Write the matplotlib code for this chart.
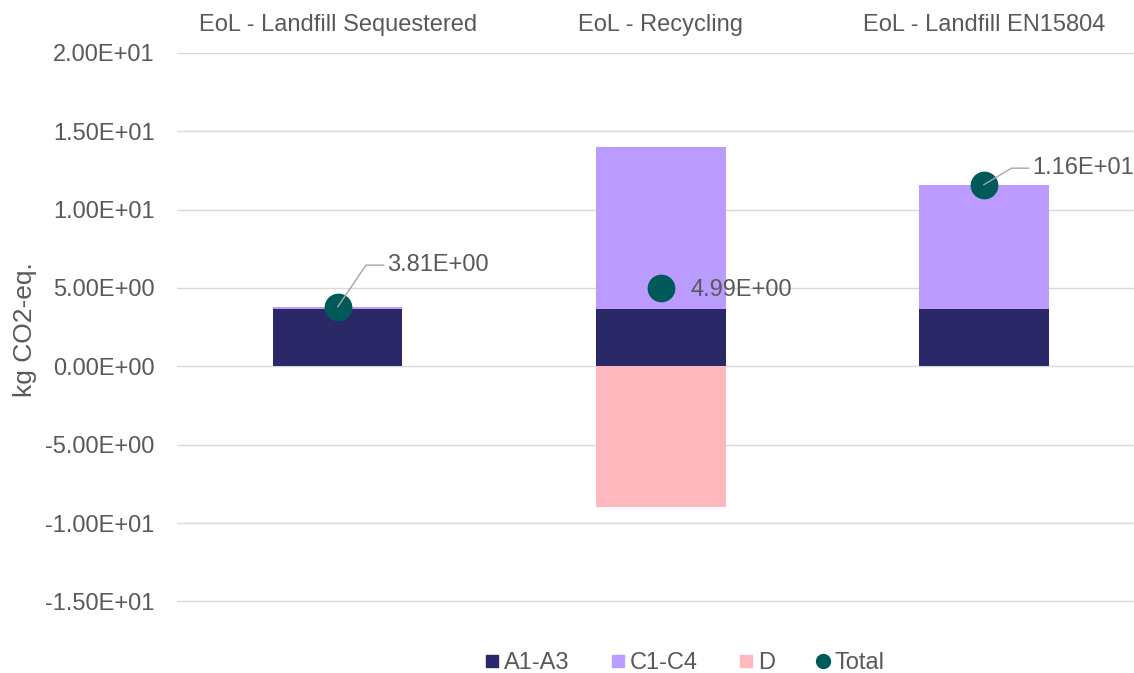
import numpy as np
import matplotlib.pyplot as plt
from matplotlib.lines import Line2D

plt.rcParams['font.family'] = ['Liberation Sans', 'DejaVu Sans']

categories = ["EoL - Landfill Sequestered", "EoL - Recycling", "EoL - Landfill EN15804"]
a1_a3 = [3.64, 3.64, 3.64]
c1_c4 = [0.17, 10.35, 7.93]
d = [0.0, -9.0, 0.0]
total = [3.81, 4.99, 11.6]
total_labels = ["3.81E+00", "4.99E+00", "1.16E+01"]

col_a = "#2A2866"
col_c = "#BB9BFF"
col_d = "#FFB8BE"
col_t = "#005A5A"
txt = "#595959"
fs = 17

fig = plt.figure(figsize=(11.34, 6.73), dpi=100)
# axes spans y = -15.3 .. 20  (20 at px 53, -10 at px 523)
ppu = (523 - 53) / 30.0
bottom_px = 53 + 35.3 * ppu
left_px = 177
ax = fig.add_axes([left_px / 1134, (673 - bottom_px) / 673, (1134 - left_px) / 1134, (bottom_px - 53) / 673])

x = np.arange(len(categories))
w = 0.40
ax.bar(x, a1_a3, w, color=col_a, zorder=2)
ax.bar(x, c1_c4, w, bottom=a1_a3, color=col_c, zorder=2)
ax.bar(x, d, w, color=col_d, zorder=2)
ax.scatter(x, total, s=360, color=col_t, zorder=4)

# data labels for totals (label offset from the point, leader bend x)
offsets = [(0.152, 2.65, 0.087), (0.09, -0.12, None), (0.148, 1.05, 0.085)]
for i, (lab, (dx, dy, bx)) in enumerate(zip(total_labels, offsets)):
    tx, ty = x[i] + dx, total[i] + dy
    if bx is not None:
        ax.plot([x[i], x[i] + bx, tx - 0.01], [total[i], ty, ty], color="#A6A6A6", lw=1, zorder=5)
    ax.text(tx, ty, lab, fontsize=fs, color=txt, va="center", ha="left", zorder=5)

ax.set_xlim(-0.498, (1134 - 338) / 323)
ax.set_ylim(-15.3, 20)
ticks = np.arange(-15, 20.1, 5)
ax.set_yticks(ticks)
ax.set_yticklabels(["%.2E" % v for v in ticks])
ax.grid(axis="y", color="#D9D9D9", lw=1, zorder=0)
ax.xaxis.tick_top()
ax.set_xticks(x)
ax.set_xticklabels(categories)
ax.tick_params(axis="both", length=0, labelsize=fs, labelcolor=txt)
ax.tick_params(axis="y", pad=16)
ax.tick_params(axis="x", pad=12)
for s in ax.spines.values():
    s.set_visible(False)
ax.set_ylabel("kg CO2-eq.", fontsize=19, color=txt)
ax.yaxis.set_label_coords(-0.146, 0.5)

handles = [
    Line2D([], [], marker="s", ls="", color=col_a, markersize=8),
    Line2D([], [], marker="s", ls="", color=col_c, markersize=8),
    Line2D([], [], marker="s", ls="", color=col_d, markersize=8),
    Line2D([], [], marker="o", ls="", color=col_t, markersize=10),
]
fig.legend(handles, ["A1-A3", "C1-C4", "D", "Total"], loc="center", bbox_to_anchor=(0.604, 1 - 663 / 673),
           ncol=4, frameon=False, fontsize=17, labelcolor=txt, handlelength=0.6, handletextpad=0.2,
           columnspacing=1.75)

fig.savefig("out.png", dpi=100)
